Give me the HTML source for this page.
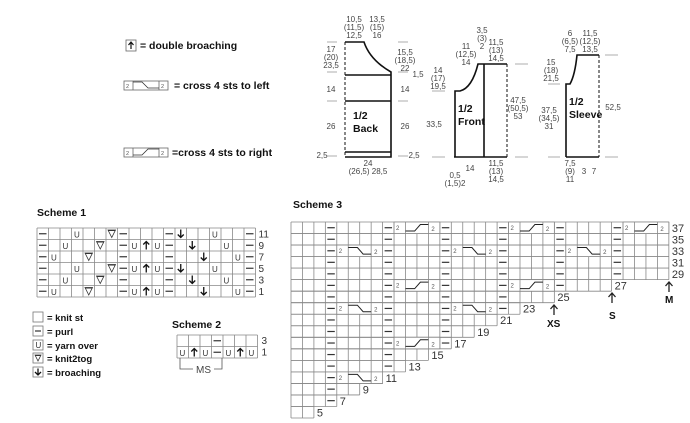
<!DOCTYPE html>
<html><head><meta charset="utf-8">
<style>
html,body{margin:0;padding:0;background:#fff;}
svg{display:block;}
text{font-family:"Liberation Sans",sans-serif;}
.b{font-weight:bold;fill:#111;}
.n{fill:#444;font-size:8px;}
</style></head>
<body>
<svg id="s" width="690" height="423" viewBox="0 0 690 423" xmlns="http://www.w3.org/2000/svg">
<!-- top legend -->
<g stroke="#666" fill="none" stroke-width="0.8">
<rect x="126" y="40" width="10" height="11"/>
<rect x="124" y="81" width="44" height="9"/><line x1="133" y1="81" x2="133" y2="90"/><line x1="159" y1="81" x2="159" y2="90"/>
<polyline points="133,82 142,82 148,88 159,88" stroke="#333"/>
<rect x="124" y="148" width="44" height="9"/><line x1="133" y1="148" x2="133" y2="157"/><line x1="159" y1="148" x2="159" y2="157"/>
<polyline points="133,155 142,155 148,149 159,149" stroke="#333"/>
</g>
<path d="M131 49 V42 M128.5 45 L131 42 L133.5 45" stroke="#111" fill="none" stroke-width="1.2"/>
<g font-size="5.5" fill="#555"><text x="126" y="88">2</text><text x="161" y="88">2</text><text x="126" y="155">2</text><text x="161" y="155">2</text></g>
<g class="b" font-size="10.5">
<text x="140" y="49">= double broaching</text>
<text x="174" y="89">= cross 4 sts to left</text>
<text x="172" y="156">=cross 4 sts to right</text>
<text x="37" y="216">Scheme 1</text>
<text x="172" y="328">Scheme 2</text>
<text x="293" y="208">Scheme 3</text>
</g>
<!-- legend scheme1 -->
<g stroke="#777" fill="none" stroke-width="0.8">
<rect x="33" y="312" width="10" height="10"/><rect x="33" y="326" width="10" height="10"/><rect x="33" y="340" width="10" height="10"/><rect x="33" y="353" width="10" height="10"/><rect x="33" y="367" width="10" height="10"/>
</g>
<g class="b" font-size="9.5">
<text x="47" y="321">= knit st</text><text x="47" y="335">= purl</text><text x="47" y="349">= yarn over</text><text x="47" y="362">= knit2tog</text><text x="47" y="376">= broaching</text>
</g>
<g id="dyn"></g>
<!-- schematics -->
<g stroke="#111" stroke-width="1.6" fill="none">
<path d="M345 42 H364 Q370 60 391 72 V157 H345"/>
<line x1="345" y1="75" x2="391" y2="75"/><line x1="345" y1="101" x2="391" y2="101"/><line x1="345" y1="152" x2="391" y2="152"/>
<path d="M455 157 V91 H460 Q472 88 478 64 H507"/><line x1="454" y1="157" x2="507" y2="157"/><line x1="484" y1="64" x2="484" y2="157"/>
<path d="M566 157 V84 H570 Q575 75 577 55 H599"/><line x1="566" y1="157" x2="599" y2="157"/>
</g>
<g stroke="#111" stroke-width="1" stroke-dasharray="3,2" fill="none">
<line x1="345" y1="42" x2="345" y2="157"/><line x1="507" y1="64" x2="507" y2="157"/><line x1="599" y1="55" x2="599" y2="157"/>
</g>
<g stroke="#999" stroke-width="0.8">
<line x1="327" y1="42" x2="337" y2="42"/><line x1="327" y1="72" x2="337" y2="72"/><line x1="327" y1="101" x2="337" y2="101"/><line x1="327" y1="156" x2="337" y2="156"/>
<line x1="398" y1="42" x2="408" y2="42"/><line x1="398" y1="72" x2="408" y2="72"/><line x1="398" y1="101" x2="408" y2="101"/><line x1="398" y1="156" x2="408" y2="156"/>
<line x1="432" y1="91" x2="445" y2="91"/><line x1="432" y1="157" x2="445" y2="157"/><line x1="515" y1="64" x2="528" y2="64"/><line x1="515" y1="157" x2="528" y2="157"/>
<line x1="548" y1="84" x2="560" y2="84"/><line x1="548" y1="157" x2="560" y2="157"/><line x1="605" y1="55" x2="618" y2="55"/><line x1="605" y1="157" x2="618" y2="157"/>
</g>
<g class="n" text-anchor="middle">
<text x="354" y="22">10,5</text><text x="354" y="30">(11,5)</text><text x="354" y="38">12,5</text>
<text x="377" y="22">13,5</text><text x="377" y="30">(15)</text><text x="377" y="38">16</text>
<text x="331" y="52">17</text><text x="331" y="60">(20)</text><text x="331" y="68">23,5</text>
<text x="331" y="92">14</text><text x="331" y="129">26</text><text x="322" y="158">2,5</text>
<text x="405" y="55">15,5</text><text x="405" y="63">(18,5)</text><text x="405" y="71">22</text><text x="418" y="77">1,5</text>
<text x="405" y="92">14</text><text x="405" y="129">26</text><text x="414" y="158">2,5</text>
<text x="368" y="166">24</text><text x="368" y="174">(26,5) 28,5</text>
<text x="482" y="33">3,5</text><text x="482" y="41">(3)</text><text x="482" y="49">2</text>
<text x="466" y="49">11</text><text x="466" y="57">(12,5)</text><text x="466" y="65">14</text>
<text x="496" y="45">11,5</text><text x="496" y="53">(13)</text><text x="496" y="61">14,5</text>
<text x="438" y="73">14</text><text x="438" y="81">(17)</text><text x="438" y="89">19,5</text>
<text x="434" y="127">33,5</text>
<text x="518" y="103">47,5</text><text x="518" y="111">(50,5)</text><text x="518" y="119">53</text>
<text x="470" y="171">14</text>
<text x="496" y="166">11,5</text><text x="496" y="174">(13)</text><text x="496" y="182">14,5</text>
<text x="455" y="178">0,5</text><text x="455" y="186">(1,5)2</text>
<text x="570" y="36">6</text><text x="570" y="44">(6,5)</text><text x="570" y="52">7,5</text>
<text x="590" y="36">11,5</text><text x="590" y="44">(12,5)</text><text x="590" y="52">13,5</text>
<text x="551" y="65">15</text><text x="551" y="73">(18)</text><text x="551" y="81">21,5</text>
<text x="549" y="113">37,5</text><text x="549" y="121">(34,5)</text><text x="549" y="129">31</text>
<text x="613" y="110">52,5</text>
<text x="570" y="166">7,5</text><text x="570" y="174">(9)</text><text x="570" y="182">11</text><text x="584" y="174">3</text><text x="594" y="174">7</text>
</g>
<g class="b" font-size="10.5" fill="#112">
<text x="353" y="119">1/2</text><text x="353" y="132">Back</text>
<text x="458" y="112">1/2</text><text x="458" y="125">Front</text>
<text x="569" y="105">1/2</text><text x="569" y="118">Sleeve</text>
</g>
</svg>
<script>
var g=document.getElementById('dyn'),h='';
function L(x1,y1,x2,y2,c,w){h+='<line x1="'+x1+'" y1="'+y1+'" x2="'+x2+'" y2="'+y2+'" stroke="'+(c||'#888')+'" stroke-width="'+(w||0.8)+'"/>';}
function T(x,y,s,sz,cl){h+='<text x="'+x+'" y="'+y+'" font-size="'+sz+'" fill="'+(cl||'#444')+'">'+s+'</text>';}
function sym(t,x,y,c){
 var cx=x+c/2,cy=y+c/2;
 if(t=='-')L(x+2,cy,x+c-2,cy,'#333',1.2);
 else if(t=='U')T(x+2.5,y+c-2,'U',8,'#333');
 else if(t=='V'){h+='<path d="M'+(x+2)+' '+(y+2)+' L'+cx+' '+(y+c-2)+' L'+(x+c-2)+' '+(y+2)+' Z" fill="none" stroke="#333" stroke-width="0.8"/>';L(x+2,y+2.5,x+c-2,y+2.5,'#333',1);}
 else if(t=='u'){h+='<path d="M'+cx+' '+(y+c-1.5)+' V'+(y+2)+' M'+(cx-3)+' '+(y+5)+' L'+cx+' '+(y+2)+' L'+(cx+3)+' '+(y+5)+'" stroke="#111" fill="none" stroke-width="1.3"/>';}
 else if(t=='d'){h+='<path d="M'+cx+' '+(y+1.5)+' V'+(y+c-2)+' M'+(cx-3)+' '+(y+c-5)+' L'+cx+' '+(y+c-2)+' L'+(cx+3)+' '+(y+c-5)+'" stroke="#111" fill="none" stroke-width="1.3"/>';}
}
// legend symbols
sym('-',33,326,10);sym('U',33,340,10);sym('V',33,353,10);sym('d',33,367,10);
// Scheme 1
var x0=37,y0=228,c=11.5,rows=[
{0:'-',3:'U',6:'V',7:'-',11:'-',12:'d',15:'U',18:'-'},
{0:'-',2:'U',5:'V',7:'-',8:'U',9:'u',10:'U',11:'-',13:'d',16:'U',18:'-'},
{0:'-',1:'U',4:'V',7:'-',11:'-',14:'d',17:'U',18:'-'},
{0:'-',3:'U',6:'V',7:'-',8:'U',9:'u',10:'U',11:'-',12:'d',15:'U',18:'-'},
{0:'-',2:'U',5:'V',7:'-',11:'-',13:'d',16:'U',18:'-'},
{0:'-',1:'U',4:'V',7:'-',8:'U',9:'u',10:'U',11:'-',14:'d',17:'U',18:'-'}];
for(var r=0;r<=6;r++)L(x0,y0+r*c,x0+19*c,y0+r*c);
for(var k=0;k<=19;k++)L(x0+k*c,y0,x0+k*c,y0+6*c);
rows.forEach(function(o,r){for(var k in o)sym(o[k],x0+k*c,y0+r*c,c);T(x0+19*c+3,y0+r*c+9.5,[11,9,7,5,3,1][r],10,'#333');});
// Scheme 2
x0=177;y0=335;
for(r=0;r<=2;r++)L(x0,y0+r*c,x0+7*c,y0+r*c);
for(k=0;k<=7;k++)L(x0+k*c,y0,x0+k*c,y0+2*c);
sym('-',x0+3*c,y0,c);['U','u','U','-','U','u','U'].forEach(function(s,k){sym(s,x0+k*c,y0+c,c);});
T(x0+7*c+4,y0+9,'3',10,'#333');T(x0+7*c+4,y0+c+9,'1',10,'#333');
h+='<path d="M180 358 V369 H193 M214 369 H222 V358" stroke="#555" fill="none" stroke-width="0.8"/>';T(196,373,'MS',10,'#444');
// Scheme 3
x0=291;y0=222;var cw=11.45,ch=11.53;
var W=[33,33,33,33,33,28,23,20,18,16,14,12,10,8,6,4,2],lab=[37,35,33,31,29,27,25,23,21,19,17,15,13,11,9,7,5];
for(r=0;r<17;r++){
 var y=y0+r*ch;L(x0,y,x0+W[r]*cw,y);L(x0,y+ch,x0+W[r]*cw,y+ch);
 for(k=0;k<=W[r];k++)L(x0+k*cw,y,x0+k*cw,y+ch);
 for(k=3;k<W[r];k+=5)sym('-',x0+k*cw,y,cw);
 T(x0+W[r]*cw+3,y+10,lab[r],11,'#333');
}
function cable(col,r,right){var x=x0+col*cw,y=y0+r*ch,hi=y+2.5,lo=y+ch-2.5;
 h+='<rect x="'+x+'" y="'+y+'" width="'+4*cw+'" height="'+ch+'" fill="#fff" stroke="#888" stroke-width="0.8"/>';
 L(x+cw,y,x+cw,y+ch);L(x+3*cw,y,x+3*cw,y+ch);
 var a=right?lo:hi,b=right?hi:lo;
 h+='<polyline points="'+(x+cw)+','+a+' '+(x+1.8*cw)+','+a+' '+(x+2.3*cw)+','+b+' '+(x+3*cw)+','+b+'" fill="none" stroke="#222" stroke-width="1"/>';
 T(x+2,y+8,'2',6,'#555');T(x+3*cw+3,y+9,'2',6,'#555');}
[[4,2,0],[4,7,0],[4,13,0],[9,0,1],[9,5,1],[9,10,1],[14,2,0],[14,7,0],[19,0,1],[19,5,1],[24,2,0],[29,0,1]].forEach(function(a){cable(a[0],a[1],a[2]);});
function up(x,y){h+='<path d="M'+x+' '+(y+10)+' V'+y+' M'+(x-3.5)+' '+(y+4)+' L'+x+' '+y+' L'+(x+3.5)+' '+(y+4)+'" stroke="#222" fill="none" stroke-width="1.3"/>';}
up(554,305);up(612,293);up(669,282);
h+='<text x="547" y="327" font-size="10" font-weight="bold" fill="#111">XS</text><text x="609" y="319" font-size="10" font-weight="bold" fill="#111">S</text><text x="665" y="303" font-size="10" font-weight="bold" fill="#111">M</text>';
g.innerHTML=h;
</script>
</body></html>
